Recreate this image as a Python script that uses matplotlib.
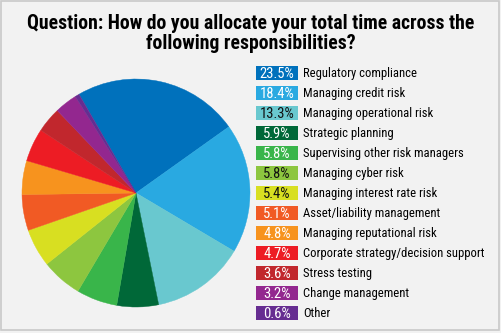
import matplotlib
matplotlib.use("Agg")
import matplotlib.pyplot as plt
from matplotlib.patches import Rectangle
from matplotlib import font_manager

categories = [
    "Regulatory compliance",
    "Managing credit risk",
    "Managing operational risk",
    "Strategic planning",
    "Supervising other risk managers",
    "Managing cyber risk",
    "Managing interest rate risk",
    "Asset/liability management",
    "Managing reputational risk",
    "Corporate strategy/decision support",
    "Stress testing",
    "Change management",
    "Other",
]
shares = [23.5, 18.4, 13.3, 5.9, 5.8, 5.8, 5.4, 5.1, 4.8, 4.7, 3.6, 3.2, 0.6]
colors = [
    "#0071bc", "#29a9e1", "#69c8cf", "#006838", "#39b54a", "#8dc63f",
    "#d8df21", "#f15a24", "#f7931e", "#ed1c24", "#c1272d", "#93278f",
    "#662d91",
]
label_colors = [
    "white", "white", "#111111", "white", "white", "#111111",
    "#111111", "white", "white", "white", "white", "white", "white",
]
title = "Question: How do you allocate your total time across the\nfollowing responsibilities?"

# pick a narrow face if one is installed
names = {f.name for f in font_manager.fontManager.ttflist}
FAM = "DejaVu Sans"
for cand in ["Liberation Sans Narrow", "Roboto Condensed", "Open Sans Condensed"]:
    if cand in names:
        FAM = cand
        break

W, H = 502, 333
bg = "#f2f2f2"
fig = plt.figure(figsize=(W / 100, H / 100), dpi=100, facecolor=bg)

# pie
ax = fig.add_axes([22 / W, 26 / H, 228 / W, 228 / H])
wedges, _ = ax.pie(shares, colors=colors, startangle=120, counterclock=False,
                   radius=1, wedgeprops=dict(linewidth=0))
for w, c in zip(wedges, colors):
    w.set_edgecolor(c)
    w.set_linewidth(0.3)
ax.set_xlim(-1, 1)
ax.set_ylim(-1, 1)
ax.set_aspect("equal")
ax.axis("off")

# overlay in pixel coordinates for title, legend and frame
ov = fig.add_axes([0, 0, 1, 1], facecolor="none")
ov.set_xlim(0, W)
ov.set_ylim(H, 0)
ov.axis("off")

ov.add_patch(Rectangle((1, 1), W - 4, H - 4, fill=False,
                       edgecolor="#c9c9c9", linewidth=1.2))

ov.text(W / 2, 23.5, title.split("\n")[0], ha="center", va="center",
        fontsize=14.2, fontweight="bold", family=FAM,
        fontstretch="condensed", color="black")
ov.text(W / 2, 43.5, title.split("\n")[1], ha="center", va="center",
        fontsize=14.2, fontweight="bold", family=FAM,
        fontstretch="condensed", color="black")

row0, step = 73, 20
box_x, box_w, box_h = 256, 42, 13.5
for i, (cat, val, col, tc) in enumerate(zip(categories, shares, colors, label_colors)):
    y = row0 + i * step
    ov.add_patch(Rectangle((box_x, y - box_h / 2), box_w, box_h,
                           facecolor=col, edgecolor="none"))
    ov.text(box_x + box_w / 2, y + 0.5, f"{val}%", ha="center", va="center",
            fontsize=10.5, family=FAM, fontstretch="condensed", color=tc)
    ov.text(303, y + 0.5, cat, ha="left", va="center", fontsize=9.1,
            family=FAM, fontstretch="condensed", color="black")

fig.savefig("out.png", dpi=100, facecolor=bg)
